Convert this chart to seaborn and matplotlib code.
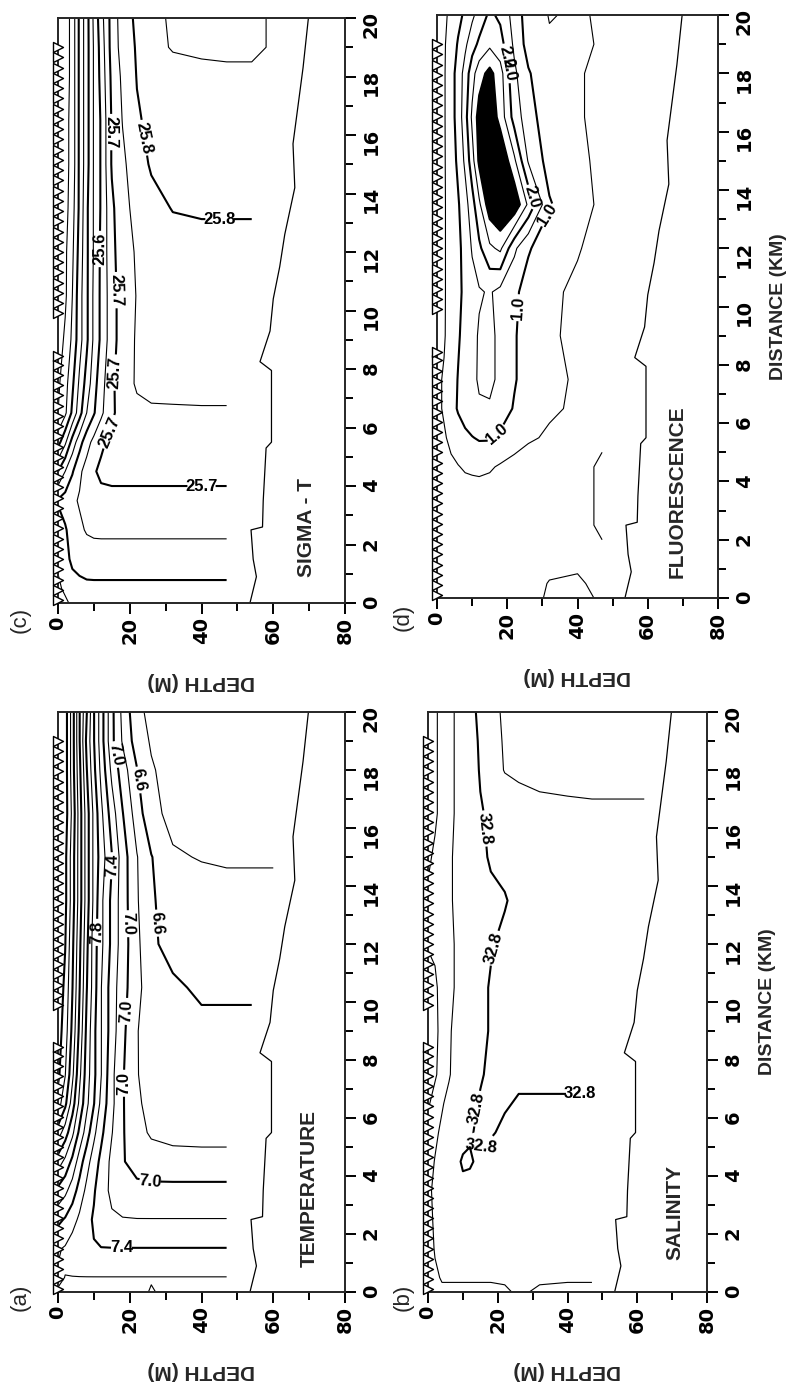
import matplotlib
matplotlib.use("Agg")
import matplotlib.pyplot as plt
import numpy as np
import seaborn as sns

nan = np.nan

# grid of the sections: rows = distance along the line (km), columns = depth (m)
distance = [0, 0.5, 1.5, 2.5, 3.5, 4.5, 5.5, 6.5, 7.5, 9, 10.5, 12, 13.5, 15, 16.5, 18, 19, 20]
depth = [0, 2, 4, 6, 8, 10, 12, 15, 18, 22, 26, 32, 40, 47, 54, 62]

# CTD stations (triangles at the surface)
stations = [0.1, 0.45, 0.8, 1.15, 1.5, 1.85, 2.2, 2.55, 2.9, 3.25, 3.6, 3.95, 4.3, 4.65,
            5.0, 5.35, 5.7, 6.05, 6.4, 6.75, 7.1, 7.45, 7.8, 8.15, 8.45,
            9.9, 10.25, 10.6, 10.95, 11.3, 11.65, 12.0, 12.35, 12.7, 13.05, 13.4, 13.75,
            14.1, 14.45, 14.8, 15.15, 15.5, 15.85, 16.2, 16.55, 16.9, 17.25, 17.6, 17.95,
            18.3, 18.65, 19.0]

# bottom line
bottom_distance = [0.0, 0.9, 1.5, 2.5, 2.6, 3.5, 5.3, 5.5, 7.95, 8.25, 9.3, 10.4, 11.5,
                   12.6, 14.2, 15.7, 17.0, 18.3, 19.9, 20.0]
bottom_depth = [53.5, 55.3, 54.4, 53.8, 57.0, 57.2, 58.0, 59.5, 59.5, 56.3, 59.1, 60.0, 61.8,
                63.2, 66.0, 65.5, 66.9, 68.3, 69.7, 69.8]

temperature = np.array([
    [7.61, 7.63, 7.64, 7.64, 7.64, 7.64, 7.64, 7.64, 7.64, 7.62, 7.595, 7.62, 7.64, 7.64, nan, nan],
    [7.58, 7.602, 7.605, 7.605, 7.605, 7.605, 7.605, 7.605, 7.605, 7.605, 7.605, 7.605, 7.605, 7.605, nan, nan],
    [7.62, 7.58, 7.5, 7.45, 7.42, 7.41, 7.405, 7.405, 7.405, 7.405, 7.405, 7.405, 7.405, 7.405, nan, nan],
    [7.85, 7.78, 7.68, 7.56, 7.45, 7.38, 7.3, 7.23, 7.21, 7.205, 7.205, 7.205, 7.205, 7.205, nan, nan],
    [8.15, 8.05, 7.9, 7.72, 7.55, 7.42, 7.3, 7.15, 7.09, 7.07, 7.06, 7.06, 7.06, 7.06, nan, nan],
    [8.5, 8.35, 8.15, 7.9, 7.68, 7.5, 7.35, 7.15, 7.02, 6.9, 6.87, 6.86, 6.86, 6.86, nan, nan],
    [8.9, 8.7, 8.45, 8.15, 7.9, 7.65, 7.45, 7.21, 7.02, 6.85, 6.78, 6.75, 6.74, 6.74, nan, nan],
    [9.3, 9.05, 8.7, 8.35, 8.05, 7.81, 7.55, 7.25, 7.02, 6.82, 6.76, 6.73, 6.72, 6.72, nan, nan],
    [9.45, 9.21, 8.85, 8.45, 8.1, 7.85, 7.61, 7.25, 7.02, 6.81, 6.72, 6.69, 6.68, 6.68, nan, nan],
    [9.5, 9.3, 8.95, 8.55, 8.15, 7.85, 7.61, 7.3, 7.05, 6.81, 6.7, 6.65, 6.63, 6.63, 6.63, nan],
    [9.55, 9.35, 9.01, 8.61, 8.21, 7.9, 7.61, 7.3, 7.08, 6.85, 6.7, 6.62, 6.58, 6.58, 6.58, nan],
    [9.55, 9.41, 9.05, 8.65, 8.25, 7.9, 7.65, 7.35, 7.1, 6.85, 6.62, 6.56, 6.53, 6.52, 6.52, nan],
    [9.61, 9.45, 9.1, 8.7, 8.3, 7.95, 7.65, 7.35, 7.1, 6.82, 6.62, 6.52, 6.48, 6.46, 6.46, nan],
    [9.61, 9.45, 9.1, 8.7, 8.3, 7.95, 7.71, 7.41, 7.1, 6.81, 6.61, 6.42, 6.39, 6.38, 6.38, 6.38],
    [9.61, 9.5, 9.15, 8.7, 8.3, 7.95, 7.65, 7.3, 7.01, 6.7, 6.45, 6.35, 6.3, 6.28, 6.26, 6.25],
    [9.61, 9.5, 9.1, 8.65, 8.21, 7.85, 7.55, 7.15, 6.9, 6.61, 6.42, 6.32, 6.28, 6.25, 6.22, 6.2],
    [9.61, 9.5, 9.1, 8.61, 8.15, 7.81, 7.5, 7.05, 6.78, 6.5, 6.38, 6.3, 6.25, 6.22, 6.2, 6.2],
    [9.61, 9.5, 9.1, 8.61, 8.21, 7.81, 7.5, 7.05, 6.75, 6.45, 6.35, 6.3, 6.25, 6.22, 6.2, 6.2],
])

salinity = np.array([
    [32.66, 32.68, 32.69, 32.69, 32.69, 32.69, 32.69, 32.69, 32.69, 32.695, 32.705, 32.695, 32.69, 32.69, nan, nan],
    [32.66, 32.69, 32.705, 32.705, 32.705, 32.705, 32.705, 32.705, 32.705, 32.705, 32.705, 32.705, 32.705, 32.705, nan, nan],
    [32.67, 32.705, 32.73, 32.74, 32.74, 32.74, 32.74, 32.74, 32.74, 32.74, 32.74, 32.74, 32.74, 32.74, nan, nan],
    [32.68, 32.71, 32.74, 32.76, 32.76, 32.76, 32.76, 32.76, 32.76, 32.76, 32.76, 32.76, 32.76, 32.76, nan, nan],
    [32.68, 32.72, 32.76, 32.78, 32.79, 32.79, 32.785, 32.78, 32.775, 32.77, 32.77, 32.77, 32.77, 32.77, nan, nan],
    [32.66, 32.705, 32.74, 32.77, 32.79, 32.805, 32.805, 32.79, 32.78, 32.775, 32.775, 32.775, 32.775, 32.775, nan, nan],
    [32.64, 32.68, 32.72, 32.75, 32.77, 32.785, 32.795, 32.81, 32.805, 32.79, 32.785, 32.785, 32.785, 32.785, nan, nan],
    [32.59, 32.63, 32.69, 32.73, 32.755, 32.77, 32.785, 32.805, 32.815, 32.805, 32.795, 32.795, 32.795, 32.795, nan, nan],
    [32.57, 32.59, 32.63, 32.69, 32.74, 32.76, 32.775, 32.795, 32.81, 32.815, 32.81, 32.81, 32.81, 32.81, nan, nan],
    [32.56, 32.585, 32.62, 32.69, 32.72, 32.74, 32.76, 32.785, 32.805, 32.82, 32.825, 32.83, 32.83, 32.83, 32.83, nan],
    [32.57, 32.59, 32.62, 32.67, 32.71, 32.74, 32.76, 32.785, 32.805, 32.82, 32.83, 32.835, 32.835, 32.835, 32.835, nan],
    [32.605, 32.61, 32.63, 32.67, 32.71, 32.74, 32.76, 32.785, 32.795, 32.815, 32.835, 32.84, 32.84, 32.84, 32.84, nan],
    [32.61, 32.62, 32.64, 32.68, 32.72, 32.745, 32.76, 32.78, 32.79, 32.795, 32.82, 32.84, 32.85, 32.85, 32.85, nan],
    [32.59, 32.61, 32.64, 32.68, 32.72, 32.745, 32.765, 32.79, 32.805, 32.82, 32.835, 32.85, 32.86, 32.86, 32.86, 32.86],
    [32.57, 32.59, 32.62, 32.67, 32.71, 32.74, 32.765, 32.795, 32.81, 32.83, 32.85, 32.87, 32.88, 32.885, 32.885, 32.885],
    [32.57, 32.59, 32.62, 32.67, 32.71, 32.74, 32.77, 32.805, 32.85, 32.905, 32.92, 32.93, 32.93, 32.93, 32.93, 32.93],
    [32.57, 32.59, 32.62, 32.67, 32.71, 32.74, 32.77, 32.81, 32.86, 32.91, 32.93, 32.94, 32.94, 32.94, 32.94, 32.94],
    [32.57, 32.59, 32.62, 32.67, 32.71, 32.75, 32.78, 32.815, 32.87, 32.915, 32.93, 32.94, 32.94, 32.94, 32.94, 32.94],
])

sigma_t = np.array([
    [25.52, 25.54, 25.56, 25.57, 25.575, 25.58, 25.58, 25.58, 25.58, 25.58, 25.58, 25.58, 25.585, 25.59, nan, nan],
    [25.54, 25.56, 25.58, 25.585, 25.59, 25.59, 25.59, 25.59, 25.59, 25.59, 25.59, 25.59, 25.59, 25.59, nan, nan],
    [25.56, 25.585, 25.61, 25.62, 25.623, 25.625, 25.625, 25.625, 25.625, 25.625, 25.625, 25.625, 25.625, 25.625, nan, nan],
    [25.575, 25.595, 25.62, 25.64, 25.655, 25.66, 25.661, 25.661, 25.661, 25.661, 25.661, 25.661, 25.661, 25.661, nan, nan],
    [25.605, 25.62, 25.64, 25.655, 25.67, 25.68, 25.685, 25.685, 25.685, 25.685, 25.685, 25.685, 25.685, 25.685, nan, nan],
    [25.5, 25.55, 25.595, 25.64, 25.67, 25.695, 25.71, 25.715, 25.715, 25.715, 25.715, 25.715, 25.715, 25.715, nan, nan],
    [25.38, 25.44, 25.52, 25.58, 25.63, 25.665, 25.69, 25.715, 25.73, 25.735, 25.735, 25.735, 25.735, 25.735, nan, nan],
    [25.3, 25.34, 25.41, 25.48, 25.55, 25.595, 25.64, 25.69, 25.725, 25.74, 25.745, 25.745, 25.745, 25.745, nan, nan],
    [25.29, 25.33, 25.39, 25.46, 25.52, 25.58, 25.63, 25.69, 25.73, 25.755, 25.76, 25.762, 25.765, 25.765, nan, nan],
    [25.27, 25.31, 25.36, 25.43, 25.49, 25.56, 25.61, 25.68, 25.725, 25.755, 25.765, 25.77, 25.775, 25.775, 25.775, nan],
    [25.26, 25.29, 25.35, 25.43, 25.49, 25.56, 25.61, 25.68, 25.725, 25.752, 25.765, 25.775, 25.78, 25.78, 25.78, nan],
    [25.26, 25.29, 25.34, 25.42, 25.49, 25.555, 25.61, 25.685, 25.73, 25.755, 25.77, 25.78, 25.785, 25.785, 25.785, nan],
    [25.26, 25.28, 25.33, 25.41, 25.49, 25.555, 25.605, 25.69, 25.735, 25.765, 25.785, 25.802, 25.805, 25.805, 25.805, nan],
    [25.26, 25.28, 25.32, 25.41, 25.48, 25.555, 25.605, 25.705, 25.74, 25.78, 25.805, 25.815, 25.825, 25.83, 25.83, 25.83],
    [25.26, 25.28, 25.32, 25.41, 25.48, 25.555, 25.605, 25.705, 25.752, 25.795, 25.81, 25.82, 25.83, 25.835, 25.835, 25.835],
    [25.25, 25.27, 25.32, 25.41, 25.48, 25.555, 25.615, 25.712, 25.76, 25.802, 25.815, 25.825, 25.835, 25.84, 25.845, 25.845],
    [25.25, 25.27, 25.32, 25.41, 25.48, 25.555, 25.62, 25.72, 25.77, 25.805, 25.83, 25.855, 25.86, 25.86, 25.855, 25.845],
    [25.25, 25.27, 25.32, 25.41, 25.48, 25.56, 25.63, 25.72, 25.775, 25.81, 25.84, 25.855, 25.86, 25.86, 25.855, 25.845],
])

fluorescence = np.array([
    [0.3, 0.3, 0.3, 0.3, 0.3, 0.3, 0.3, 0.3, 0.3, 0.3, 0.35, 0.56, 0.6, 0.45, nan, nan],
    [0.3, 0.3, 0.3, 0.3, 0.3, 0.3, 0.3, 0.3, 0.3, 0.3, 0.35, 0.52, 0.55, 0.4, nan, nan],
    [0.3, 0.3, 0.3, 0.3, 0.3, 0.3, 0.3, 0.3, 0.3, 0.3, 0.3, 0.35, 0.4, 0.45, nan, nan],
    [0.3, 0.3, 0.3, 0.3, 0.3, 0.3, 0.3, 0.3, 0.3, 0.3, 0.3, 0.3, 0.4, 0.55, nan, nan],
    [0.3, 0.3, 0.3, 0.3, 0.3, 0.3, 0.3, 0.3, 0.3, 0.3, 0.3, 0.3, 0.4, 0.55, nan, nan],
    [0.3, 0.35, 0.42, 0.48, 0.55, 0.58, 0.6, 0.55, 0.45, 0.35, 0.3, 0.3, 0.4, 0.55, nan, nan],
    [0.35, 0.45, 0.6, 0.75, 0.9, 0.98, 1.05, 1.05, 0.9, 0.7, 0.55, 0.45, 0.4, 0.45, nan, nan],
    [0.4, 0.55, 0.8, 1.05, 1.2, 1.35, 1.45, 1.45, 1.3, 0.95, 0.7, 0.55, 0.45, 0.4, nan, nan],
    [0.4, 0.55, 0.8, 1.02, 1.2, 1.4, 1.55, 1.6, 1.4, 1.05, 0.75, 0.6, 0.45, 0.4, nan, nan],
    [0.4, 0.45, 0.75, 0.95, 1.15, 1.35, 1.55, 1.6, 1.4, 1.05, 0.75, 0.55, 0.42, 0.4, 0.4, nan],
    [0.4, 0.45, 0.7, 0.9, 1.1, 1.3, 1.45, 1.55, 1.35, 1.1, 0.8, 0.55, 0.45, 0.4, 0.4, nan],
    [0.4, 0.45, 0.7, 0.9, 1.15, 1.55, 1.9, 2.4, 2.6, 1.6, 1.05, 0.7, 0.52, 0.4, 0.4, nan],
    [0.4, 0.45, 0.7, 0.95, 1.3, 1.8, 2.4, 3.3, 3.6, 3.4, 2.4, 1.05, 0.6, 0.45, 0.45, nan],
    [0.4, 0.45, 0.75, 1.1, 1.6, 2.3, 3.1, 3.6, 3.5, 2.6, 1.45, 0.8, 0.55, 0.45, 0.45, 0.45],
    [0.4, 0.45, 0.8, 1.2, 1.8, 2.6, 3.2, 3.4, 2.8, 1.8, 1.2, 0.7, 0.52, 0.45, 0.45, 0.45],
    [0.4, 0.45, 0.8, 1.2, 1.7, 2.3, 2.8, 3.15, 2.7, 1.6, 1.05, 0.6, 0.52, 0.45, 0.45, 0.45],
    [0.35, 0.45, 0.7, 1.05, 1.4, 1.8, 2.1, 2.4, 2.2, 1.4, 0.8, 0.55, 0.6, 0.45, 0.45, 0.45],
    [0.3, 0.42, 0.6, 0.85, 1.1, 1.4, 1.7, 2.1, 1.9, 1.3, 0.75, 0.48, 0.55, 0.45, 0.45, 0.45],
])

temp_levels = [6.4, 6.6, 6.8, 7.0, 7.2, 7.4, 7.6, 7.8, 8.0, 8.2, 8.4, 8.6, 8.8, 9.0, 9.2, 9.4]
temp_bold = [6.6, 7.0, 7.4, 7.8, 8.2, 8.6, 9.0, 9.4]
sal_levels = [32.6, 32.7, 32.8, 32.9]
sal_bold = [32.8]
sigt_levels = [25.3, 25.35, 25.4, 25.45, 25.5, 25.55, 25.6, 25.65, 25.7, 25.75, 25.8, 25.85]
sigt_bold = [25.4, 25.5, 25.6, 25.7, 25.8]
fluor_levels = [0.5, 1.0, 1.5, 2.0, 2.5]
fluor_bold = [1.0, 2.0]
fluor_black = 3.0

sns.set_theme(style="ticks")
plt.rcParams["font.family"] = ["Liberation Sans", "DejaVu Sans"]
plt.rcParams["font.weight"] = "bold"
plt.rcParams["axes.labelweight"] = "bold"
plt.rcParams["axes.linewidth"] = 1.4

W, H = 789, 1385
fig = plt.figure(figsize=(W / 100, H / 100), dpi=100)


def section(rect, field, levels, bold, label_pos, name, name_at, letter, letter_at, show_dist):
    ax = fig.add_axes(rect)
    thin = [v for v in levels if v not in bold]
    ax.contour(depth, distance, field, levels=thin, colors="black", linewidths=0.8)
    cs = ax.contour(depth, distance, field, levels=bold, colors="black", linewidths=1.5)
    labels = ax.clabel(cs, fmt="%.1f", manual=label_pos, fontsize=12, inline=True,
                       inline_spacing=2)
    for t in labels:
        t.set_fontweight("bold")

    sns.lineplot(x=bottom_depth, y=bottom_distance, sort=False, estimator=None,
                 color="black", linewidth=0.9, ax=ax)
    sns.scatterplot(x=np.zeros(len(stations)), y=stations, marker=">", s=52, color="white",
                    edgecolor="black", linewidth=1.0, ax=ax, clip_on=False, zorder=6)

    ax.set_xlim(0, 80)
    ax.set_ylim(0, 20)
    ax.set_xticks([0, 20, 40, 60, 80])
    ax.set_xticks([10, 30, 50, 70], minor=True)
    ax.set_yticks(range(0, 21, 2))
    ax.set_yticks(range(1, 20, 2), minor=True)
    ax.yaxis.tick_right()
    ax.tick_params(which="both", direction="out", width=1.4, colors="black")
    ax.tick_params(which="major", length=8)
    ax.tick_params(which="minor", length=6)
    ax.tick_params(axis="x", labelrotation=90, pad=2)
    ax.tick_params(axis="y", labelrotation=90, pad=4)
    for t in ax.get_xticklabels() + ax.get_yticklabels():
        t.set_fontfamily("DejaVu Sans")
        t.set_fontweight("bold")
        t.set_fontsize(14)
    ax.set_xlabel("DEPTH (M)", rotation=180, fontsize=15, labelpad=20)
    if show_dist:
        ax.yaxis.set_label_position("right")
        ax.set_ylabel("DISTANCE (KM)", fontsize=14, labelpad=12)
    else:
        ax.set_ylabel("")
    ax.text(name_at[0], name_at[1], name, rotation=90, ha="center", va="bottom", fontsize=15)
    fig.text(letter_at[0] / W, 1 - letter_at[1] / H, letter, rotation=90,
             ha="center", va="center", fontsize=16, fontweight="normal")
    return ax


# (c) sigma-t, top left
section([0.0735, 0.5646, 0.3638, 0.4224], sigma_t, sigt_levels, sigt_bold,
        [(23.8, 15.9), (45, 13.2), (15.4, 16.1), (13, 12.1), (16.8, 10.7),
         (13.6, 7.9), (13.6, 5.9), (40, 3.8)],
        "SIGMA - T", (69.4, 0.9), "(c)", (20, 620), False)

# (a) temperature, bottom left
section([0.0735, 0.0671, 0.3638, 0.4188], temperature, temp_levels, temp_bold,
        [(15, 18.5), (20, 17.6), (15, 14.7), (11.7, 12.4), (19.1, 12.7), (26.1, 12.7),
         (16.7, 9.7), (18.2, 7.2), (25.6, 3.8), (17.7, 1.55)],
        "TEMPERATURE", (70, 0.85), "(a)", (20, 1297), False)

# (d) fluorescence, top right
axd = section([0.5539, 0.5682, 0.3561, 0.4209], fluorescence, fluor_levels, fluor_bold,
              [(19.8, 18.1), (21.7, 18.2), (25.5, 13.65), (29.8, 13.3), (19.4, 10.0), (16, 5.8)],
              "FLUORESCENCE", (68.3, 0.7), "(d)", (403, 617), True)
axd.contourf(depth, distance, fluorescence, levels=[fluor_black, 10], colors="black")
axd.contour(depth, distance, fluorescence, levels=[fluor_black], colors="black", linewidths=1.5)

# (b) salinity, bottom right
section([0.5425, 0.0671, 0.3536, 0.4188], salinity, sal_levels, sal_bold,
        [(17.3, 16.0), (17.9, 11.9), (14.9, 6.3), (15.8, 4.9), (43.6, 6.7)],
        "SALINITY", (70.8, 1.1), "(b)", (403, 1297), True)

fig.savefig("out.png", dpi=100)
